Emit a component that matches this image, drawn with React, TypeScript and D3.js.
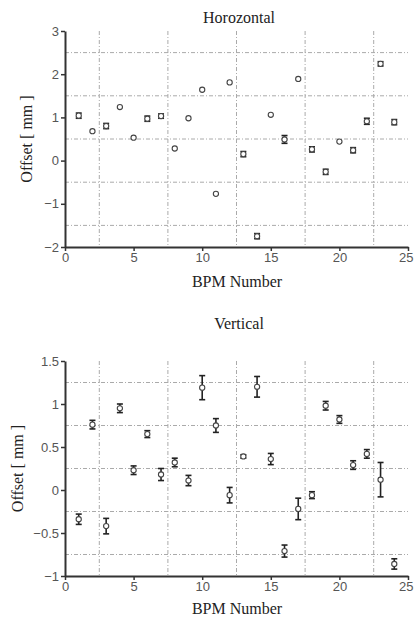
import React, { useEffect, useRef } from "react";
import * as d3 from "d3";

// BPM index 1..24
const bpm = d3.range(1, 25);

// horizontal offsets [mm] and their error half-widths
const horValues = [
  1.04, 0.68, 0.8, 1.24, 0.53, 0.97, 1.03, 0.28, 0.98, 1.64, -0.77, 1.81,
  0.15, -1.75, 1.06, 0.49, 1.89, 0.26, -0.26, 0.44, 0.24, 0.91, 2.24, 0.89,
];
const horErrors = [
  0.06, 0, 0.06, 0, 0, 0.06, 0.05, 0, 0, 0, 0, 0,
  0.06, 0.06, 0, 0.09, 0, 0.06, 0.06, 0, 0.06, 0.07, 0.05, 0.06,
];

// vertical offsets [mm] and their error half-widths
const verValues = [
  -0.34, 0.76, -0.42, 0.95, 0.23, 0.65, 0.18, 0.32, 0.11, 1.19, 0.75, -0.06,
  0.39, 1.2, 0.36, -0.71, -0.22, -0.06, 0.98, 0.82, 0.29, 0.42, 0.12, -0.86,
];
const verErrors = [
  0.06, 0.05, 0.09, 0.05, 0.05, 0.04, 0.07, 0.05, 0.06, 0.14, 0.08, 0.09,
  0.02, 0.12, 0.065, 0.07, 0.125, 0.04, 0.05, 0.045, 0.05, 0.05, 0.2, 0.06,
];

const horTicks = [3, 2, 1, 0, -1, -2];
const horGrid = [2.5, 1.5, 0.5, -0.5, -1.5];
const verTicks = [1.5, 1, 0.5, 0, -0.5, -1];
const verGrid = [1.25, 0.75, 0.25, -0.25, -0.75];
const xTicks = [0, 5, 10, 15, 20, 25];
const xGrid = [2.5, 7.5, 12.5, 17.5, 22.5];

const fmt = (v: number) => (v < 0 ? "\u2212" + Math.abs(v) : String(v));

function drawPanel(
  g: d3.Selection<SVGGElement, unknown, null, undefined>,
  opts: {
    title: string;
    titleY: number;
    top: number;
    bottom: number;
    labelX: number;
    xLabelY: number;
    yDomain: [number, number];
    yTicks: number[];
    yGrid: number[];
    values: number[];
    errors: number[];
  }
) {
  const x = d3.scaleLinear().domain([0, 25]).range([65, 408]);
  const y = d3.scaleLinear().domain(opts.yDomain).range([opts.bottom, opts.top]);

  // grid
  const grid = g.append("g").attr("stroke", "#aaa").attr("stroke-width", 1).attr("stroke-dasharray", "4,2,1,2");
  grid.selectAll("line.h").data(opts.yGrid).join("line")
    .attr("x1", x(0)).attr("x2", x(25))
    .attr("y1", (d) => y(d)).attr("y2", (d) => y(d));
  grid.selectAll("line.v").data(xGrid).join("line")
    .attr("x1", (d) => x(d)).attr("x2", (d) => x(d))
    .attr("y1", y(opts.yDomain[1])).attr("y2", y(opts.yDomain[0]));

  // axes
  const yAxis = d3.axisLeft(y).tickValues(opts.yTicks).tickSize(4).tickSizeOuter(0).tickFormat((d) => fmt(+d));
  const xAxis = d3.axisBottom(x).tickValues(xTicks).tickSize(4).tickSizeOuter(0).tickFormat((d) => fmt(+d));
  const ya = g.append("g").attr("transform", `translate(${x(0)},0)`).call(yAxis);
  const xa = g.append("g").attr("transform", `translate(0,${y(opts.yDomain[0])})`).call(xAxis);
  [ya, xa].forEach((a) => {
    a.select(".domain").attr("stroke", "#333").attr("stroke-width", 2);
    a.selectAll(".tick line").attr("stroke", "#333").attr("stroke-width", 1.5);
    a.selectAll(".tick text")
      .attr("fill", "#555")
      .style("font-family", "'Liberation Sans', Arial, sans-serif")
      .style("font-size", "13px");
  });
  ya.selectAll(".tick text").attr("x", -6);
  xa.selectAll(".tick text").attr("y", 6);
  // keep the last label inside the window
  xa.selectAll<SVGTextElement, number>(".tick text")
    .filter((d) => d === 25)
    .attr("text-anchor", "end")
    .attr("x", 5);

  // error bars
  const pts = bpm.map((b, i) => ({ b, v: opts.values[i], e: opts.errors[i] }));
  const eb = g.append("g").attr("stroke", "#222").attr("stroke-width", 1.6);
  pts.filter((p) => p.e > 0).forEach((p) => {
    const cx = x(p.b);
    eb.append("line").attr("x1", cx).attr("x2", cx).attr("y1", y(p.v - p.e)).attr("y2", y(p.v + p.e));
    [p.v - p.e, p.v + p.e].forEach((v) => {
      eb.append("line").attr("x1", cx - 3).attr("x2", cx + 3).attr("y1", y(v)).attr("y2", y(v));
    });
  });

  // markers
  g.append("g").selectAll("circle").data(pts).join("circle")
    .attr("cx", (d) => x(d.b)).attr("cy", (d) => y(d.v)).attr("r", 2.6)
    .attr("fill", "#fff").attr("stroke", "#444").attr("stroke-width", 1.1);

  // titles
  const serif = "'Liberation Serif', 'Times New Roman', serif";
  g.append("text").attr("x", 239).attr("y", opts.titleY).attr("text-anchor", "middle")
    .style("font-family", serif).style("font-size", "16px").attr("fill", "#222").text(opts.title);
  g.append("text").attr("x", 237).attr("y", opts.xLabelY).attr("text-anchor", "middle")
    .style("font-family", serif).style("font-size", "16px").attr("fill", "#222").text("BPM Number");
  g.append("text")
    .attr("transform", `translate(${opts.labelX},${(opts.top + opts.bottom) / 2}) rotate(-90)`)
    .attr("text-anchor", "middle")
    .style("font-family", serif).style("font-size", "16px").attr("fill", "#222").text("Offset [ mm ]");
}

export default function App() {
  const svgRef = useRef<SVGSVGElement>(null);

  useEffect(() => {
    const svg = d3.select(svgRef.current);
    svg.selectAll("*").remove();

    drawPanel(svg.append("g"), {
      title: "Horozontal", titleY: 23, top: 31, bottom: 247, labelX: 32, xLabelY: 287,
      yDomain: [-2, 3], yTicks: horTicks, yGrid: horGrid, values: horValues, errors: horErrors,
    });
    drawPanel(svg.append("g"), {
      title: "Vertical", titleY: 329, top: 361, bottom: 576, labelX: 23, xLabelY: 614,
      yDomain: [-1, 1.5], yTicks: verTicks, yGrid: verGrid, values: verValues, errors: verErrors,
    });
  }, []);

  return (
    <svg
      ref={svgRef}
      width={414}
      height={618}
      style={{ position: "absolute", left: 0, top: 0, background: "#fff" }}
    />
  );
}
